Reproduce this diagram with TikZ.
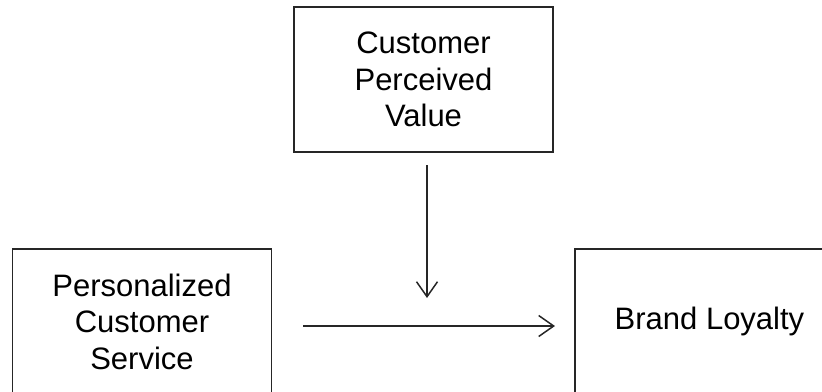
\documentclass[tikz,border=0pt]{standalone}
\usepackage{fontspec}
\setmainfont{Liberation Sans}
\usetikzlibrary{arrows.meta}
\begin{document}
\begin{tikzpicture}[x=1pt,y=-1pt,
  box/.style={draw=black!85, line width=1.6pt, minimum width=259pt, minimum height=145pt,
    align=center, inner sep=0pt, font=\fontsize{31}{36.5}\selectfont},
  conn/.style={draw=black!85, line width=1.5pt, -{Straight Barb[length=15pt,width=21pt,line width=1.5pt]}}]
\useasboundingbox (0,0) rectangle (822,391);
\clip (0,0) rectangle (822,391);
\node[box] (cpv) at (423.5,79.5) {Customer\\Perceived\\Value};
\node[box] (pcs) at (142,321.5) {Personalized\\Customer\\Service};
\node[box] (bl) at (704.5,321.5) {\hspace*{10pt}\raisebox{4pt}{Brand Loyalty}};
\coordinate (vstart) at (427,165);
\coordinate (vend) at (427,298);
\coordinate (hstart) at (303,326);
\coordinate (hend) at (555,326);
\draw[conn] (vstart) -- (vend);
\draw[conn] (hstart) -- (hend);
\end{tikzpicture}
\end{document}
